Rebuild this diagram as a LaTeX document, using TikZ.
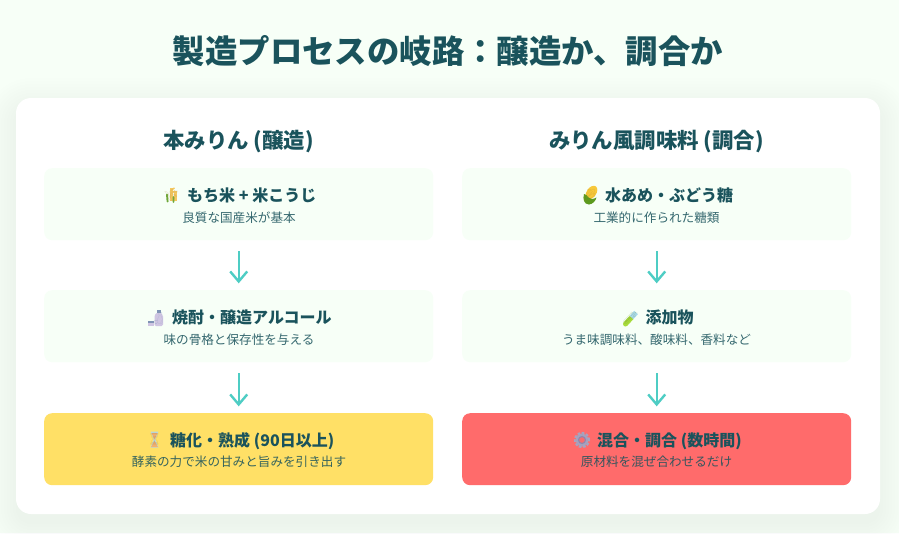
\documentclass[tikz,border=0pt]{standalone}
\usepackage{fontspec}
\setmainfont{Noto Sans CJK JP}
\newfontfamily\emojifont{Noto Emoji}
\usetikzlibrary{arrows.meta}
\definecolor{pagebg}{HTML}{F7FFF7}
\definecolor{ink}{HTML}{1A535C}
\definecolor{teal}{HTML}{4ECDC4}
\definecolor{honey}{HTML}{FFE066}
\definecolor{coral}{HTML}{FF6B6B}
\definecolor{ecrice}{HTML}{F5C860}
\definecolor{ecleaf}{HTML}{6FA83A}
\definecolor{ecorn}{HTML}{F7C83A}
\definecolor{ecgreen}{HTML}{5C9A1E}
\definecolor{esake}{HTML}{CFC5E2}
\definecolor{esaketop}{HTML}{7F93B5}
\definecolor{etube}{HTML}{A8DC3C}
\definecolor{etubetop}{HTML}{A8D8EA}
\definecolor{eglass}{HTML}{B8D8E0}
\definecolor{esand}{HTML}{F0B070}
\definecolor{egear}{HTML}{A9A3BE}
\definecolor{egeard}{HTML}{8F88AE}
\tikzset{
  x=1pt,y=-1pt,
  stepcard/.style={rounded corners=8pt,minimum width=389pt,minimum height=72pt,inner sep=0pt,draw=none,anchor=north west},
  plainstep/.style={stepcard,fill=pagebg},
  heading/.style={anchor=base,text=ink,font=\fontsize{21.4}{26}\bfseries,inner sep=0pt},
  steptitle/.style={anchor=base west,text=ink,font=\fontsize{16}{20}\bfseries,inner sep=0pt},
  stepnote/.style={anchor=base,text=ink,text opacity=.88,font=\fontsize{12.6}{16}\selectfont,inner sep=0pt},
  emojimark/.style={anchor=center,inner sep=0pt,text opacity=.25,font=\fontsize{12}{12}\emojifont},
  flow/.style={draw=teal,line width=2.4pt,-{Straight Barb[length=10pt,width=17pt,line width=2.4pt]},shorten <=11pt,shorten >=6.7pt}
}
\begin{document}
\begin{tikzpicture}
\useasboundingbox (0,0) rectangle (899,533);
\fill[pagebg] (0,0) rectangle (899,533);
% card shadow
\foreach \g in {30,27,...,0}{
  \fill[ink,opacity=.0055,rounded corners=15pt+\g pt] (16-\g,108-\g) rectangle (880+\g,524+\g);
}
\fill[white,rounded corners=15pt] (16,98) rectangle (880,514);
\node[anchor=base,text=ink,font=\fontsize{32.4}{38}\bfseries,inner sep=0pt] (title) at (448,63) {製造プロセスの岐路：醸造か、調合か};
\node[heading] (hl) at (238.5,148) {本みりん (醸造)};
\node[heading] (hr) at (656.5,148) {みりん風調味料 (調合)};
% left column
\node[plainstep] (l1) at (44,168) {};
\node[plainstep] (l2) at (44,290) {};
\node[stepcard,fill=honey] (l3) at (44,413) {};
\node[steptitle] (l1t) at (187,201.3) {もち米 + 米こうじ};
\node[stepnote] (l1n) at (239,222) {良質な国産米が基本};
\node[steptitle] (l2t) at (172,323.8) {焼酎・醸造アルコール};
\node[stepnote] (l2n) at (239,344.3) {味の骨格と保存性を与える};
\node[steptitle] (l3t) at (170,446.6) {糖化・熟成 (90日以上)};
\node[stepnote] (l3n) at (239,466.2) {酵素の力で米の甘みと旨みを引き出す};
% right column
\node[plainstep] (r1) at (462,168) {};
\node[plainstep] (r2) at (462,290) {};
\node[stepcard,fill=coral] (r3) at (462,413) {};
\node[steptitle] (r1t) at (605,201.3) {水あめ・ぶどう糖};
\node[stepnote] (r1n) at (656.5,222) {工業的に作られた糖類};
\node[steptitle] (r2t) at (645.5,323.8) {添加物};
\node[stepnote] (r2n) at (656.5,344.3) {うま味調味料、酸味料、香料など};
\node[steptitle] (r3t) at (597,446.6) {混合・調合 (数時間)};
\node[stepnote] (r3n) at (656.5,466.2) {原材料を混ぜ合わせるだけ};
% emoji: rice
\draw[ecrice,line width=2.2pt] (171.5,188) -- (171.5,201) (175.5,191) -- (175.5,201);
\draw[ecrice,line width=1.4pt] (171.5,190) -- (174.5,188) (171.5,193) -- (175,191);
\draw[ecleaf,line width=1.9pt,line cap=round] (167,194.5) -- (167.6,201.5) (173.5,197) -- (173.5,202);
\node[emojimark,text=ecrice!70!black] (e1) at (171.5,195) {🌾};
% emoji: sake
\fill[esake,rounded corners=1.5pt] (154.5,315) -- (157,312.5) -- (160.5,312.5) -- (163,315) -- (163,326) -- (154.5,326) -- cycle;
\fill[esaketop] (156.5,309.5) rectangle (161,313);
\fill[esake] (147.5,321) rectangle (153.5,326);
\fill[esaketop] (147.5,321) rectangle (153.5,323);
\node[emojimark,text=esaketop] (e2) at (158.5,318) {🍶};
% emoji: hourglass
\fill[eglass] (150.5,431.5) -- (158.5,431.5) -- (155.2,439.5) -- (158.5,447.5) -- (150.5,447.5) -- (153.8,439.5) -- cycle;
\fill[esand] (151.5,433) -- (157.5,433) -- (154.5,439.5) -- cycle;
\fill[esand] (154.5,441) -- (158,447) -- (151,447) -- cycle;
\node[emojimark,text=esand!70!black] (e3) at (154.5,439.5) {⏳};
% emoji: corn
\fill[ecorn,rotate around={-35:(591.5,192.5)}] (591.5,192.5) ellipse (4.8pt and 7.5pt);
\fill[ecgreen] (584,194) .. controls (582.5,199) and (584,204.5) .. (589,204.5) .. controls (593,204) and (595.5,201) .. (596.5,197.5) .. controls (593,199.5) and (590,199.5) .. (588.5,197.5) .. controls (587.5,195.5) and (586,194.5) .. (584,194) -- cycle;
\node[emojimark,text=ecorn!70!black] (e4) at (590,195) {🌽};
% emoji: test tube
\draw[etube,line width=5pt,line cap=round] (625.5,324) -- (631.5,317.5);
\draw[etubetop,line width=5pt] (631.5,317.5) -- (636,312.5);
\node[emojimark,text=etube!60!black] (e5) at (630.5,318) {🧪};
% emoji: gear
\draw[egear,line width=3pt] (582,440) circle (5pt);
\draw[egear,line width=3pt,dash pattern=on 2.5pt off 1.5pt] (582,440) circle (6.6pt);
\draw[egeard,line width=1pt] (582,440) circle (3.5pt);
\node[emojimark,text=egeard] (e6) at (582,440) {⚙};
% connectors
\draw[flow] (l1.south) -- (l2.north);
\draw[flow] (l2.south) -- (l3.north);
\draw[flow] (r1.south) -- (r2.north);
\draw[flow] (r2.south) -- (r3.north);
\end{tikzpicture}
\end{document}
